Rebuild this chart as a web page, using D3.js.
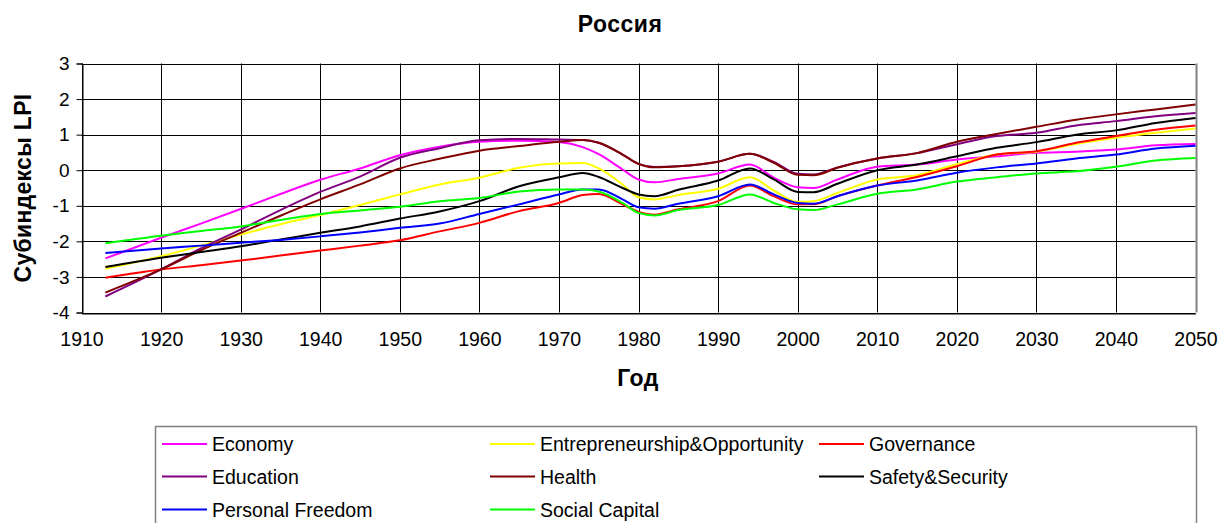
<!DOCTYPE html>
<html>
<head>
<meta charset="utf-8">
<script src="https://cdn.jsdelivr.net/npm/d3@7"></script>
<style>
  html, body { margin: 0; padding: 0; background: #fff; }
  svg { display: block; }
  text { font-family: "Liberation Sans", Arial, sans-serif; }
</style>
</head>
<body>
<svg id="chart" width="1218" height="523"></svg>
<script>
const title = "Россия";
const yTitle = "Субиндексы LPI";
const xTitle = "Год";

const years = [1913,1920,1925,1930,1935,1940,1945,1950,1955,1960,1965,1970,1973,1975,1978,1980,1982,1985,1990,1994,1997,2000,2002,2005,2010,2015,2020,2025,2030,2035,2040,2045,2050];

const economy = [-2.48,-1.90,-1.50,-1.09,-0.67,-0.27,0.05,0.42,0.66,0.80,0.83,0.79,0.65,0.45,0.02,-0.26,-0.34,-0.25,-0.09,0.16,-0.21,-0.48,-0.50,-0.26,0.10,0.16,0.30,0.39,0.49,0.52,0.58,0.70,0.74];
const entrepreneurship = [-2.77,-2.42,-2.12,-1.81,-1.52,-1.26,-0.98,-0.68,-0.40,-0.21,0.07,0.19,0.20,0.05,-0.40,-0.76,-0.82,-0.70,-0.52,-0.20,-0.57,-0.89,-0.87,-0.64,-0.26,-0.14,0.17,0.44,0.52,0.74,0.91,1.05,1.17];
const governance = [-3.02,-2.79,-2.67,-2.54,-2.40,-2.26,-2.12,-1.97,-1.72,-1.48,-1.15,-0.92,-0.70,-0.67,-0.96,-1.17,-1.25,-1.10,-0.87,-0.43,-0.73,-0.96,-0.96,-0.73,-0.43,-0.19,0.11,0.44,0.53,0.77,0.96,1.14,1.26];
const education = [-3.55,-2.79,-2.20,-1.67,-1.12,-0.61,-0.18,0.35,0.62,0.84,0.88,0.86,0.85,0.77,0.44,0.18,0.09,0.11,0.24,0.46,0.23,-0.10,-0.12,0.08,0.33,0.48,0.73,0.96,1.05,1.26,1.38,1.52,1.61];
const health = [-3.44,-2.79,-2.25,-1.76,-1.28,-0.82,-0.40,0.05,0.32,0.55,0.68,0.80,0.85,0.77,0.44,0.18,0.08,0.11,0.24,0.46,0.21,-0.13,-0.14,0.07,0.33,0.48,0.80,1.02,1.22,1.42,1.57,1.71,1.85];
const safety = [-2.72,-2.46,-2.30,-2.14,-1.95,-1.76,-1.58,-1.36,-1.16,-0.87,-0.45,-0.20,-0.08,-0.19,-0.50,-0.68,-0.73,-0.55,-0.29,0.05,-0.26,-0.61,-0.62,-0.38,0.00,0.16,0.39,0.63,0.79,1.00,1.12,1.33,1.47];
const freedom = [-2.33,-2.20,-2.12,-2.04,-1.96,-1.86,-1.75,-1.62,-1.50,-1.23,-0.96,-0.68,-0.54,-0.54,-0.82,-1.04,-1.08,-0.94,-0.73,-0.40,-0.68,-0.92,-0.94,-0.73,-0.43,-0.29,-0.07,0.08,0.19,0.33,0.44,0.61,0.69];
const social = [-2.05,-1.84,-1.71,-1.58,-1.40,-1.23,-1.13,-1.03,-0.87,-0.78,-0.60,-0.54,-0.54,-0.60,-0.92,-1.20,-1.27,-1.12,-0.98,-0.68,-0.92,-1.10,-1.12,-0.96,-0.66,-0.54,-0.32,-0.20,-0.09,-0.03,0.10,0.27,0.34];

const xTicks = [1910,1920,1930,1940,1950,1960,1970,1980,1990,2000,2010,2020,2030,2040,2050];
const yTicks = [3,2,1,0,-1,-2,-3,-4];

const seriesNames = ["Economy","Entrepreneurship&Opportunity","Governance","Education","Health","Safety&Security","Personal Freedom","Social Capital"];
const seriesColors = ["#FF00FF","#FFFF00","#FF0000","#800080","#800000","#000000","#0000FF","#00FF00"];
const seriesValues = [economy, entrepreneurship, governance, education, health, safety, freedom, social];

const svg = d3.select("#chart");
const pLeft = 81.5, pRight = 1195.5, pTop = 63.5, pBottom = 312.5;

const x = d3.scaleLinear().domain([1910, 2050]).range([pLeft, pRight]);
const y = d3.scaleLinear().domain([-4, 3]).range([pBottom, pTop]);

// gridlines
const grid = svg.append("g");
grid.selectAll("line.h").data(yTicks).join("line")
  .attr("x1", pLeft).attr("x2", pRight)
  .attr("y1", d => Math.round(y(d)) + 0.5).attr("y2", d => Math.round(y(d)) + 0.5)
  .attr("stroke", "#000").attr("stroke-width", 1);
grid.selectAll("line.v").data(xTicks).join("line")
  .attr("y1", pTop).attr("y2", pBottom)
  .attr("x1", d => Math.round(x(d)) + 0.5).attr("x2", d => Math.round(x(d)) + 0.5)
  .attr("stroke", d => d === 2050 ? "#808080" : "#000").attr("stroke-width", d => d === 2050 ? 2 : 1);

// axes
const yAxis = d3.axisLeft(y).tickValues(yTicks).tickSize(6).tickPadding(7).tickFormat(d => String(d));
const gy = svg.append("g").attr("transform", `translate(${Math.round(pLeft) + 0.5},0)`).call(yAxis);
gy.select(".domain").attr("stroke", "#000");
gy.selectAll(".tick line").attr("stroke", "#000");
gy.selectAll("text").attr("font-size", 19).attr("font-family", "Liberation Sans, Arial, sans-serif").attr("fill", "#000");

const xAxis = d3.axisBottom(x).tickValues(xTicks).tickSize(0).tickPadding(19).tickFormat(d => String(d));
const gx = svg.append("g").attr("transform", `translate(0,${Math.round(pBottom) + 0.5})`).call(xAxis);
gx.select(".domain").attr("stroke", "#000");
gx.selectAll("text").attr("font-size", 19.5).attr("font-family", "Liberation Sans, Arial, sans-serif").attr("fill", "#000");

// lines
const line = d3.line().x((d, i) => x(years[i])).y(d => y(d)).curve(d3.curveMonotoneX);
svg.append("g").selectAll("path").data(seriesValues).join("path")
  .attr("d", d => line(d))
  .attr("fill", "none")
  .attr("stroke", (d, i) => seriesColors[i])
  .attr("stroke-width", 2);

// titles
svg.append("text").attr("x", 620).attr("y", 32).attr("text-anchor", "middle")
  .attr("font-size", 23).attr("letter-spacing", 0.5).attr("font-weight", "bold").text(title);
svg.append("text").attr("transform", `translate(31,188) rotate(-90)`).attr("text-anchor", "middle")
  .attr("font-size", 23).attr("letter-spacing", 0.3).attr("font-weight", "bold").text(yTitle);
svg.append("text").attr("x", 638).attr("y", 386).attr("text-anchor", "middle")
  .attr("font-size", 23).attr("letter-spacing", 0.5).attr("font-weight", "bold").text(xTitle);

// legend
const legend = svg.append("g");
legend.append("rect").attr("x", 155.5).attr("y", 426.5).attr("width", 1041).attr("height", 110)
  .attr("fill", "#fff").attr("stroke", "#808080").attr("stroke-width", 1.5);
const colX = [162, 490, 819];
const rowY = [444, 476.5, 509.5];
const items = seriesNames.map((n, i) => ({ name: n, color: seriesColors[i], col: i % 3, row: Math.floor(i / 3) }));
const li = legend.selectAll("g.item").data(items).join("g")
  .attr("transform", d => `translate(${colX[d.col]},${rowY[d.row]})`);
li.append("line").attr("x1", 0).attr("x2", 45).attr("y1", 0).attr("y2", 0)
  .attr("stroke", d => d.color).attr("stroke-width", 2);
li.append("text").attr("x", 50).attr("y", 7).attr("font-size", 19.5).attr("fill", "#000").text(d => d.name);
</script>
</body>
</html>
